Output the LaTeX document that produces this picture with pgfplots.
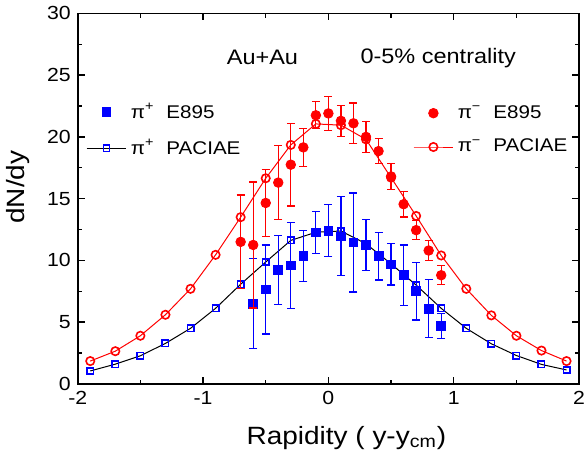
\documentclass[border=0pt]{standalone}
\usepackage{fontspec}
\setmainfont{Liberation Sans}[FakeStretch=1.12]
\usepackage{pgfplots}
\pgfplotsset{compat=1.18}

\definecolor{pired}{RGB}{255,0,0}
\definecolor{piblue}{RGB}{0,0,255}

\pgfplotsset{
  common/.style={
    scale only axis,
    width=251pt, height=185.5pt,
    xmin=-2, xmax=2, ymin=0, ymax=30,
    xtick={-2,-1,0,1,2}, ytick={0,5,...,30},
    minor x tick num=1, minor y tick num=1,
    major tick length=3.5pt, minor tick length=2.2pt,
    tick style={line width=0.7pt, black},
    axis line style={line width=0.8pt},
    tick label style={font=\fontsize{9.5}{11}\selectfont},
    x tick label style={inner xsep=0.5pt},
    /pgf/number format/assume math mode=true,
    legend cell align=left,
    legend image code/.code={\draw[mark repeat=2,mark phase=2]
      plot coordinates {(0cm,0cm) (0.35cm,0cm) (0.7cm,0cm)};},
    legend style={draw=none, fill=none, row sep=5pt,
      font=\fontsize{9.2}{11}\selectfont},
  },
  ebars/.style={
    error bars/.cd, y dir=both, y explicit,
    error bar style={line width=0.6pt},
    error mark=-,
    error mark options={rotate=90, mark size=2pt, line width=0.6pt},
  },
}

\begin{document}
\begin{tikzpicture}
% pi+ : E895 data and PACIAE
\begin{axis}[common,
  xlabel={Rapidity ( y-y\textsubscript{cm})},
  ylabel={dN/dy},
  label style={font=\fontsize{12.5}{14}\selectfont},
  xlabel style={at={(axis description cs:0.536,-0.145)}, anchor=center},
  ylabel style={at={(axis description cs:-0.1185,0.531)}, anchor=center},
  reverse legend,
  legend style={at={(axis description cs:0.004,0.685)}, anchor=west},
]
\addplot[black, line width=0.5pt, mark=square,
  mark options={piblue, line width=0.8pt, fill=white, mark size=1.6pt}]
  coordinates {
  (-1.9,1.05) (-1.7,1.6) (-1.5,2.28) (-1.3,3.28) (-1.1,4.5)
  (-0.9,6.12) (-0.7,8.07) (-0.5,9.87) (-0.3,11.62) (-0.1,12.28)
  (0.1,12.38) (0.3,11.35) (0.5,9.72) (0.7,8.0) (0.9,6.12)
  (1.1,4.5) (1.3,3.25) (1.5,2.3) (1.7,1.58) (1.9,1.13)
};
\addlegendentry{π\textsuperscript{+}\hspace{6pt}PACIAE}
\addplot[piblue, only marks, mark=square*, mark size=2.2pt, ebars]
  table[x=x, y=y, y error=e] {
  x    y     e
  -0.6 6.5   3.63
  -0.5 7.65  3.6
  -0.4 9.2   2.8
  -0.3 9.6   3.5
  -0.2 10.35 2.07
  -0.1 12.27 1.7
  0.0  12.4  2.1
  0.1  11.95 3.2
  0.2  11.45 4.0
  0.3  11.25 2.05
  0.4  10.35 1.93
  0.5  9.68  1.67
  0.6  8.8   2.45
  0.7  7.5   2.33
  0.8  6.1   2.33
  0.9  4.68  1.0
};
\addlegendentry{π\textsuperscript{+}\hspace{6pt}E895}
\node[font=\fontsize{10.5}{12}\selectfont] at (axis cs:-0.526,26.4) {Au+Au};
\node[font=\fontsize{10.5}{12}\selectfont] at (axis cs:0.876,26.4) {0-5\% centrality};
\end{axis}
% pi- : E895 data and PACIAE
\begin{axis}[common, hide axis,
  reverse legend,
  legend style={at={(axis description cs:0.656,0.685)}, anchor=west},
]
\addplot[pired, line width=0.5pt, mark=o,
  mark options={pired, line width=0.8pt, fill=white, mark size=2.1pt}]
  coordinates {
  (-1.9,1.85) (-1.7,2.65) (-1.5,3.9) (-1.3,5.6) (-1.1,7.7)
  (-0.9,10.45) (-0.7,13.5) (-0.5,16.65) (-0.3,19.35) (-0.1,21.05)
  (0.1,20.95) (0.3,19.8) (0.5,16.7) (0.7,13.6) (0.9,10.4)
  (1.1,7.7) (1.3,5.55) (1.5,3.9) (1.7,2.7) (1.9,1.85)
};
\addlegendentry{π\textsuperscript{−}\hspace{6pt}PACIAE}
\addplot[pired, only marks, mark=*, mark size=2.4pt, ebars]
  table[x=x, y=y, y error=e] {
  x    y     e
  -0.7 11.5  3.8
  -0.6 11.25 5.1
  -0.5 14.65 2.7
  -0.4 16.3  3.0
  -0.3 17.75 3.35
  -0.2 19.15 1.55
  -0.1 21.75 1.1
  0.0  21.9  1.4
  0.1  21.3  1.25
  0.2  21.1  1.65
  0.3  20.0  1.25
  0.4  18.85 1.0
  0.5  16.8  1.05
  0.6  14.55 1.03
  0.7  12.45 0.78
  0.8  10.8  0.78
  0.9  8.8   0.76
};
\addlegendentry{π\textsuperscript{−}\hspace{6pt}E895}
\end{axis}
\end{tikzpicture}
\end{document}
